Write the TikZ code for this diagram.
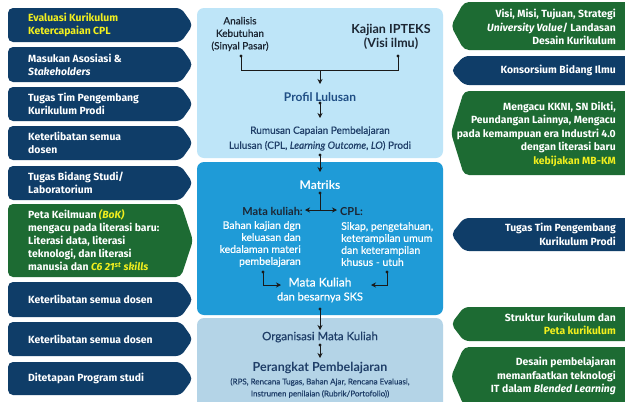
\documentclass[tikz,border=0pt]{standalone}
\usepackage{fontspec}
\setmainfont{Fira Sans}
\newfontfamily\lato{Lato}
\newfontfamily\latom{Lato}[FakeBold=0.6]
\usetikzlibrary{arrows.meta}
\definecolor{navyc}{HTML}{0F3D68}
\definecolor{greenc}{HTML}{1D6B33}
\definecolor{yel}{HTML}{F2EF1E}
\definecolor{toppan}{HTML}{BEE5F8}
\definecolor{midpan}{HTML}{1F9BD7}
\definecolor{botpan}{HTML}{B4D4E7}
\definecolor{ctext}{HTML}{1C2633}
\definecolor{cblue}{HTML}{1F4E85}
\definecolor{cnavy}{HTML}{1F3E68}
\definecolor{linec}{HTML}{1A1A1A}
\newcommand\LBan[3]{\fill[#3, rounded corners=5pt] (8,#1) -- (181,#1) -- (193,{(#1+#2)/2}) -- (181,#2) -- (8,#2) -- cycle;}
\newcommand\RBan[3]{\fill[#3, rounded corners=5pt] (632,#1) -- (464,#1) -- (451,{(#1+#2)/2}) -- (464,#2) -- (632,#2) -- cycle;}
\tikzset{
  ltxt/.style={anchor=west, align=left, inner sep=0pt, text=white, font=\bfseries\fontsize{10.4}{13}\selectfont},
  rtxt/.style={anchor=east, align=right, inner sep=0pt, text=white, font=\bfseries\fontsize{10.4}{13.5}\selectfont},
  ctx/.style={inner sep=0pt, align=center},
  dotn/.style={circle, fill=linec, inner sep=0pt, minimum size=3.4pt},
  ln/.style={draw=linec, line width=0.9pt},
  arr/.style={ln, -{Stealth[length=5pt,width=5pt]}},
  darr/.style={ln, {Stealth[length=5pt,width=5pt]}-{Stealth[length=5pt,width=5pt]}}
}
\begin{document}
\begin{tikzpicture}[x=1pt,y=-1pt]
\useasboundingbox (0,0) rectangle (625,402);
\fill[white] (0,0) rectangle (625,402);
% panels
\fill[toppan, rounded corners=7pt] (197,8) rectangle (443,158);
\fill[midpan, rounded corners=7pt] (197,162) rectangle (443,315);
\fill[botpan, rounded corners=7pt] (197,318) rectangle (443,412);
% left banners
\LBan{8}{42}{navyc}
\LBan{47}{82}{navyc}
\LBan{87}{121}{navyc}
\LBan{126}{160}{navyc}
\LBan{166}{200}{navyc}
\LBan{204}{277}{greenc}
\LBan{282}{317}{navyc}
\LBan{322}{356}{navyc}
\LBan{362}{395}{navyc}
\node[ltxt, text=yel] (l1) at (28,25) {Evaluasi Kurikulum\\Ketercapaian CPL};
\node[ltxt] (l2) at (28,64.5) {Masukan Asosiasi \&\\\textit{Stakeholders}};
\node[ltxt] (l3) at (28,104) {Tugas Tim Pengembang\\Kurikulum Prodi};
\node[ltxt] (l4) at (28,143) {Keterlibatan semua\\dosen};
\node[ltxt] (l5) at (28,183) {Tugas Bidang Studi/\\Laboratorium};
\node[ltxt] (l6) at (28,240.5) {Peta Keilmuan \textcolor{yel}{\textit{(BoK)}}\\mengacu pada literasi baru:\\Literasi data, literasi\\teknologi, dan literasi\\manusia dan \textcolor{yel}{\textit{C6 21\textsuperscript{st} skills}}};
\node[ltxt] (l7) at (28,299.5) {Keterlibatan semua dosen};
\node[ltxt] (l8) at (28,339) {Keterlibatan semua dosen};
\node[ltxt] (l9) at (28,378.5) {Ditetapan Program studi};
% right banners
\RBan{2}{50}{greenc}
\RBan{56}{85}{navyc}
\RBan{91}{175}{greenc}
\RBan{218}{251}{navyc}
\RBan{307}{341}{greenc}
\RBan{347}{406}{greenc}
\node[rtxt] (r1) at (616,27) {Visi, Misi, Tujuan, Strategi\\\textit{University Value}/ Landasan\\Desain Kurikulum};
\node[rtxt] (r2) at (616,70.5) {Konsorsium Bidang Ilmu};
\node[rtxt] (r3) at (616,134) {Mengacu KKNI, SN Dikti,\\Peundangan Lainnya, Mengacu\\pada kemampuan era Industri 4.0\\dengan literasi baru\\\textcolor{yel}{kebijakan MB-KM}};
\node[rtxt] (r4) at (616,234.5) {Tugas Tim Pengembang\\Kurikulum Prodi};
\node[rtxt] (r5) at (616,324) {Struktur kurikulum dan\\\textcolor{yel}{Peta kurikulum}};
\node[rtxt] (r6) at (616,376) {Desain pembelajaran\\memanfaatkan teknologi\\IT dalam \textit{Blended Learning}};
% center texts
\node[ctx, text=ctext, font=\latom\fontsize{10}{12.5}\selectfont] (ana) at (240,34) {Analisis\\Kebutuhan\\(Sinyal Pasar)};
\node[ctx, text=ctext, font=\lato\bfseries\fontsize{12.5}{14}\selectfont] (kaj) at (391,37) {Kajian IPTEKS\\(Visi ilmu)};
\node[ctx, text=cblue, font=\lato\bfseries\fontsize{12}{14}\selectfont] (prof) at (320,97) {Profil Lulusan};
\node[ctx, text=cnavy, font=\latom\fontsize{10}{15}\selectfont] (rum) at (320,138.5) {Rumusan Capaian Pembelajaran\\Lulusan (CPL, \textit{Learning Outcome}, \textit{LO}) Prodi};
\node[ctx, text=white, font=\lato\bfseries\fontsize{12}{14}\selectfont] (mat) at (320,185) {Matriks};
\node[inner sep=0pt, anchor=east, text=ctext, font=\lato\bfseries\fontsize{11}{13}\selectfont] (mk) at (303,211.5) {Mata kuliah:};
\node[inner sep=0pt, anchor=west, text=ctext, font=\lato\bfseries\fontsize{11}{13}\selectfont] (cpl) at (340,211.5) {CPL:};
\node[inner sep=0pt, anchor=east, align=right, text=white, font=\latom\fontsize{10.5}{12}\selectfont] (mkd) at (301,244) {Bahan kajian dgn\\keluasan dan\\kedalaman materi\\pembelajaran};
\node[inner sep=0pt, anchor=west, align=left, text=white, font=\latom\fontsize{10.5}{12}\selectfont] (cpld) at (341,244) {Sikap, pengetahuan,\\keterampilan umum\\dan keterampilan\\khusus - utuh};
\node[ctx, text=white, font=\latom\fontsize{11}{14}\selectfont] (mks) at (320,290) {{\fontsize{12}{14}\selectfont Mata Kuliah}\\dan besarnya SKS};
\node[ctx, text=cnavy, font=\latom\fontsize{11.5}{14}\selectfont] (org) at (320,337) {Organisasi Mata Kuliah};
\node[ctx, text=cnavy, font=\lato\bfseries\fontsize{12.5}{14}\selectfont] (per) at (320,368) {Perangkat Pembelajaran};
\node[ctx, text=cnavy, font=\latom\fontsize{8}{12}\selectfont] (perd) at (320,388) {(RPS, Rencana Tugas, Bahan Ajar, Rencana Evaluasi,\\Instrumen penilaian (Rubrik/Portofolio))};
% connectors
\node[dotn] (da) at (241,56) {};
\node[dotn] (dk) at (398,56) {};
\coordinate (j1) at (320,70);
\coordinate (t1) at (320,84);
\draw[ln] (da.center) |- (j1);
\draw[ln] (dk.center) |- (j1);
\draw[arr] (j1) -- (t1);
\node[dotn] (dp) at (320,103) {};
\coordinate (t2) at (320,118);
\draw[arr] (dp.center) -- (t2);
\node[dotn] (dr) at (320,155) {};
\coordinate (t3) at (320,172);
\draw[arr] (dr.center) -- (t3);
\node[dotn] (dm) at (320,193) {};
\coordinate (j2) at (320,210);
\coordinate (hl) at (305,210);
\coordinate (hr) at (337,210);
\draw[ln] (dm.center) -- (j2);
\draw[darr] (hl) -- (hr);
\node[dotn] (dl) at (263,272) {};
\node[dotn] (drr) at (387,272) {};
\coordinate (el) at (281,285);
\coordinate (er) at (371,285);
\draw[arr] (dl.center) |- (el);
\draw[arr] (drr.center) |- (er);
\node[dotn] (ds) at (320,309) {};
\coordinate (t4) at (320,330);
\draw[arr] (ds.center) -- (t4);
\node[dotn] (do) at (320,345) {};
\coordinate (t5) at (320,358);
\draw[arr] (do.center) -- (t5);
\end{tikzpicture}
\end{document}
